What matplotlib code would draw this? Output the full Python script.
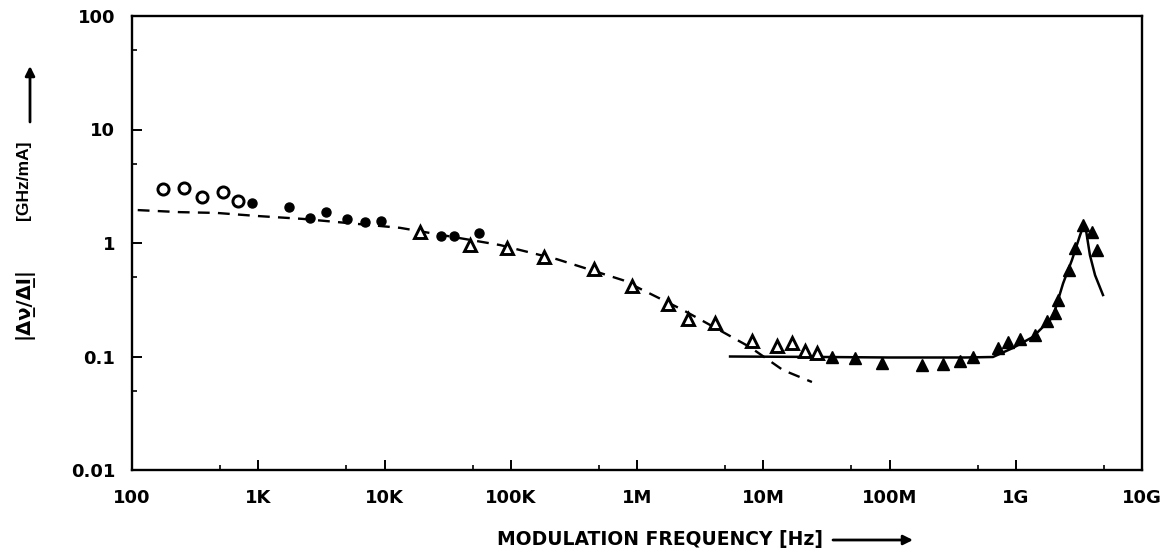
import numpy as np
import matplotlib
matplotlib.use("Agg")
import matplotlib.pyplot as plt
from matplotlib.ticker import FixedLocator, NullFormatter

# measured FM response, |dv/dI| in GHz/mA vs modulation frequency in Hz
open_circ_f = [176, 258, 358, 526, 691]
open_circ_v = [2.99, 3.05, 2.54, 2.81, 2.34]

filled_circ_f = [891, 1750, 2570, 3440, 5050, 7010, 9380, 28000, 35500, 56100]
filled_circ_v = [2.25, 2.07, 1.66, 1.87, 1.63, 1.53, 1.56, 1.15, 1.15, 1.22]

open_tri_f = [19100, 47500, 93300, 183000, 456000, 912000, 1.76e6, 2.53e6,
              4.15e6, 8.15e6, 12.9e6, 16.9e6, 21.4e6, 26.7e6]
open_tri_v = [1.25, 0.96, 0.90, 0.75, 0.59, 0.42, 0.29, 0.214,
              0.197, 0.137, 0.124, 0.131, 0.112, 0.107]

filled_tri_f = [35.1e6, 53.3e6, 87.3e6, 181e6, 265e6, 361e6, 459e6,
                7.23e8, 8.69e8, 1.08e9, 1.42e9, 1.77e9, 2.05e9, 2.16e9,
                2.64e9, 2.95e9, 3.41e9, 4.02e9, 4.40e9]
filled_tri_v = [0.099, 0.097, 0.088, 0.084, 0.086, 0.091, 0.099,
                0.119, 0.134, 0.143, 0.155, 0.206, 0.242, 0.315,
                0.578, 0.903, 1.44, 1.25, 0.867]

# thermal model (dashed) and carrier model (solid)
thermal_f = [111, 240, 471, 977, 2260, 13300, 82000, 232000, 775000,
             2.31e6, 4.8e6, 7.85e6, 14.3e6, 24.3e6]
thermal_v = [1.95, 1.87, 1.84, 1.73, 1.63, 1.36, 0.96, 0.72, 0.47,
             0.257, 0.164, 0.121, 0.076, 0.0596]

carrier_f = [5.46e6, 3e7, 1e8, 4e8, 6.6e8, 9.5e8, 1.37e9, 1.97e9, 2.37e9,
             2.79e9, 3.23e9, 3.47e9, 3.60e9, 3.87e9, 4.25e9, 4.91e9]
carrier_v = [0.100, 0.099, 0.098, 0.098, 0.099, 0.119, 0.149, 0.223, 0.44,
             0.71, 1.17, 1.47, 1.30, 0.78, 0.52, 0.348]

x_ticks = [1e2, 1e3, 1e4, 1e5, 1e6, 1e7, 1e8, 1e9, 1e10]
x_labels = ['100', '1K', '10K', '100K', '1M', '10M', '100M', '1G', '10G']
y_ticks = [0.01, 0.1, 1, 10, 100]
y_labels = ['0.01', '0.1', '1', '10', '100']

W, H = 1163, 555
fig = plt.figure(figsize=(W / 100, H / 100), dpi=100)
ax = fig.add_axes([132 / W, 1 - 470 / H, (1142 - 132) / W, (470 - 16) / H])
ax.set_xscale('log')
ax.set_yscale('log')
ax.set_xlim(1e2, 1e10)
ax.set_ylim(0.01, 100)

ax.plot(thermal_f, thermal_v, color='black', lw=1.7, dashes=(5, 3.5))
ax.plot(carrier_f, carrier_v, color='black', lw=1.8)
ax.plot(open_circ_f, open_circ_v, 'o', ms=8, mfc='white', mec='black', mew=2.1)
ax.plot(filled_circ_f, filled_circ_v, 'o', ms=6.5, color='black')
ax.plot(open_tri_f, open_tri_v, '^', ms=9, mfc='white', mec='black', mew=2.1)
ax.plot(filled_tri_f, filled_tri_v, '^', ms=9, color='black')

for s in ax.spines.values():
    s.set_linewidth(1.7)

tick_font = dict(family='DejaVu Sans', weight='bold', size=13)
ax.set_xticks(x_ticks)
ax.set_xticklabels(x_labels, **tick_font)
ax.set_yticks(y_ticks)
ax.set_yticklabels(y_labels, **tick_font)
ax.xaxis.set_minor_locator(FixedLocator([5 * 10.0 ** k for k in range(2, 10)]))
ax.yaxis.set_minor_locator(FixedLocator([5 * 10.0 ** k for k in range(-2, 2)]))
ax.xaxis.set_minor_formatter(NullFormatter())
ax.yaxis.set_minor_formatter(NullFormatter())
ax.tick_params(which='major', direction='in', length=7, width=1.4)
ax.tick_params(which='minor', direction='in', length=3.5, width=1.2)
ax.tick_params(axis='x', which='major', pad=14)
ax.tick_params(axis='y', which='major', pad=12)

# axis titles with arrows
fig.text(660 / W, 1 - 540 / H, 'MODULATION FREQUENCY [Hz]', ha='center', va='center',
         family='DejaVu Sans', weight='bold', size=13.5)
fig.text(23 / W, 1 - 303 / H, '|Δν\u0332/ΔI\u0332|', rotation=90, ha='center', va='center',
         family='DejaVu Sans', weight='bold', size=14)
fig.text(24 / W, 1 - 180 / H, '[GHz/mA]', rotation=90, ha='center', va='center',
         family='Liberation Sans', weight='bold', size=12.5)
arrow = dict(arrowstyle='-|>', color='black', lw=2, mutation_scale=14, shrinkA=0, shrinkB=0)
ax.annotate('', xy=(913, H - 540), xytext=(833, H - 540), xycoords='figure pixels',
            textcoords='figure pixels', arrowprops=arrow)
ax.annotate('', xy=(30, H - 66), xytext=(30, H - 122), xycoords='figure pixels',
            textcoords='figure pixels', arrowprops=arrow)

fig.savefig('out.png', dpi=100)
